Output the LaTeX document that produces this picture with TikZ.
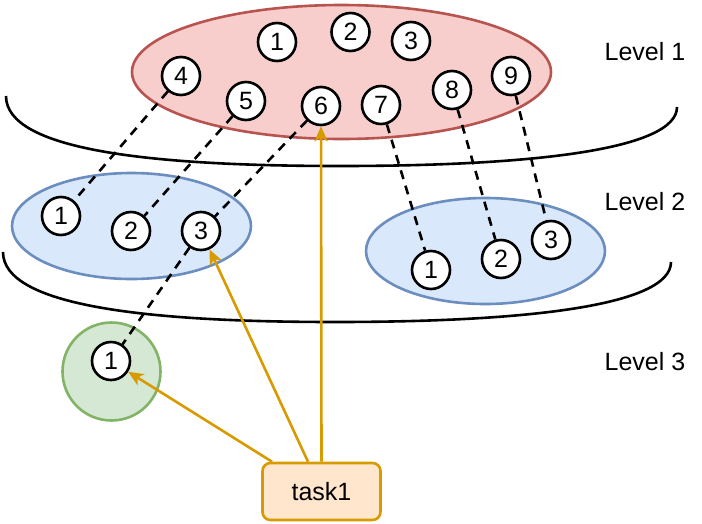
\documentclass[tikz,border=0pt]{standalone}
\usepackage{fontspec}
\setmainfont{Liberation Sans}
\usetikzlibrary{arrows.meta,shapes.geometric}

\definecolor{redfill}{HTML}{F8CECC}
\definecolor{redline}{HTML}{B85450}
\definecolor{bluefill}{HTML}{DAE8FC}
\definecolor{blueline}{HTML}{6C8EBF}
\definecolor{greenfill}{HTML}{D5E8D4}
\definecolor{greenline}{HTML}{82B366}
\definecolor{orangefill}{HTML}{FFE6CC}
\definecolor{orangeline}{HTML}{D79B00}

\tikzset{
  txt/.style={font=\fontsize{25}{30}\selectfont},
  num/.style={txt, circle, draw=black, fill=white, line width=2.6pt,
              minimum size=38pt, inner sep=0pt},
  group/.style={ellipse, line width=2.6pt, inner sep=0pt},
  link/.style={line width=2.6pt, dash pattern=on 9pt off 7pt},
  levelline/.style={line width=2.6pt},
  call/.style={draw=orangeline, line width=2.6pt,
               -{Stealth[length=15pt,width=13pt,inset=4pt]}},
  taskbox/.style={txt, draw=orangeline, fill=orangefill, line width=2.6pt,
                  rounded corners=8pt, minimum width=118pt, minimum height=57pt}
}

\begin{document}
\begin{tikzpicture}[x=1pt,y=-1pt]
  \useasboundingbox (0,0) rectangle (702,523);

  % level separators
  \draw[levelline] (6,96) .. controls (6,150) and (150,166) .. (340,166)
                         .. controls (530,166) and (677,150) .. (677,107);
  \draw[levelline] (3,252) .. controls (3,306) and (147,322) .. (335,322)
                         .. controls (525,322) and (671,306) .. (671,262);

  % groups
  \node[group, draw=redline, fill=redfill, minimum width=419pt, minimum height=134pt]
    (top) at (341.5,72) {};
  \node[group, draw=blueline, fill=bluefill, minimum width=239pt, minimum height=106pt]
    (midL) at (131.5,226) {};
  \node[group, draw=blueline, fill=bluefill, minimum width=239pt, minimum height=106pt]
    (midR) at (485.5,251) {};
  \node[circle, draw=greenline, fill=greenfill, line width=2.6pt, minimum size=98pt, inner sep=0pt]
    (low) at (111.5,371.5) {};

  % level 1 members
  \node[num] (a1) at (277,42) {1};
  \node[num] (a2) at (350.5,32) {2};
  \node[num] (a3) at (411,41) {3};
  \node[num] (a4) at (181,76) {4};
  \node[num] (a5) at (246,101) {5};
  \node[num] (a6) at (321,106) {6};
  \node[num] (a7) at (381,105) {7};
  \node[num] (a8) at (452,90) {8};
  \node[num] (a9) at (511,76) {9};

  % level 2 members
  \node[num] (b1) at (61,216) {1};
  \node[num] (b2) at (131,231) {2};
  \node[num] (b3) at (201,231) {3};
  \node[num] (c1) at (431,270) {1};
  \node[num] (c2) at (501,259) {2};
  \node[num] (c3) at (551,240) {3};

  % level 3 member
  \node[num] (d1) at (111,361) {1};

  % parent links
  \draw[link] (a4) -- (b1);
  \draw[link] (a5) -- (b2);
  \draw[link] (a6) -- (b3);
  \draw[link] (a7) -- (c1);
  \draw[link] (a8) -- (c2);
  \draw[link] (a9) -- (c3);
  \draw[link] (b3) -- (d1);

  % level labels
  \node[txt] (l1) at (645,52) {Level 1};
  \node[txt] (l2) at (645,202) {Level 2};
  \node[txt] (l3) at (645,362) {Level 3};

  % task and its accesses
  \node[taskbox] (task) at (321.5,491.5) {task1};
  \draw[call] (task.north) -- (a6);
  \draw[call] ([xshift=-13.5pt]task.north) -- (b3);
  \draw[call] ([xshift=-49.5pt]task.north) -- (d1);
\end{tikzpicture}
\end{document}
